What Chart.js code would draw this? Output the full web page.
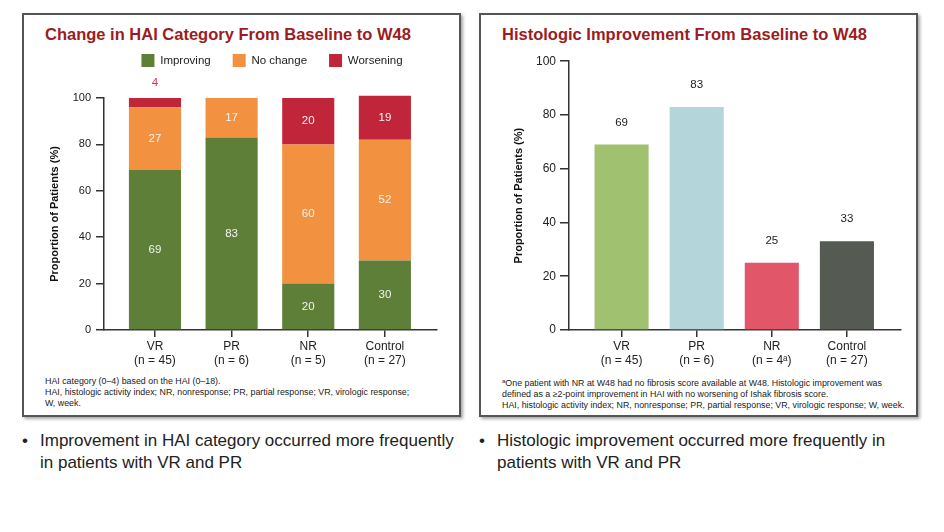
<!DOCTYPE html>
<html>
<head>
<meta charset="utf-8">
<script src="https://cdn.jsdelivr.net/npm/chart.js@4"></script>
<style>
body{margin:0;width:944px;height:532px;background:#fff;font-family:"Liberation Sans",Arial,sans-serif;position:relative;overflow:hidden}
.box{position:absolute;top:13px;width:439px;height:404px;box-sizing:border-box;border:2px solid #555;box-shadow:2px 2px 3px rgba(0,0,0,.35);background:#fff}
.title{position:absolute;top:25px;font-weight:bold;font-size:16.5px;color:#9b1c22;white-space:nowrap}
.note{position:absolute;top:376px;font-size:8.85px;line-height:11px;color:#222;white-space:nowrap}
.note sup{font-size:6px;vertical-align:3px}
canvas{position:absolute}
.bullet{position:absolute;top:430px;font-size:17px;line-height:22px;color:#222;white-space:nowrap}
.bullet span{position:absolute;left:-18px;top:0}
</style>
</head>
<body>
<div class="box" style="left:22px"></div>
<div class="box" style="left:479px"></div>
<div class="title" style="left:45px">Change in HAI Category From Baseline to W48</div>
<div class="title" style="left:502px">Histologic Improvement From Baseline to W48</div>
<canvas id="hai" width="460" height="343" style="left:42px;top:32px"></canvas>
<canvas id="histo" width="405" height="325" style="left:505px;top:50px"></canvas>
<div class="note" style="left:45px">HAI category (0–4) based on the HAI (0–18).<br>HAI, histologic activity index; NR, nonresponse; PR, partial response; VR, virologic response;<br>W, week.</div>
<div class="note" style="left:502px"><sup>a</sup>One patient with NR at W48 had no fibrosis score available at W48. Histologic improvement was<br>defined as a ≥2-point improvement in HAI with no worsening of Ishak fibrosis score.<br>HAI, histologic activity index; NR, nonresponse; PR, partial response; VR, virologic response; W, week.</div>
<div class="bullet" style="left:40px"><span>•</span>Improvement in HAI category occurred more frequently<br>in patients with VR and PR</div>
<div class="bullet" style="left:497px"><span>•</span>Histologic improvement occurred more frequently in<br>patients with VR and PR</div>
<script>
// data
var categories = [['VR', '(n = 45)'], ['PR', '(n = 6)'], ['NR', '(n = 5)'], ['Control', '(n = 27)']];
var improving = [69, 83, 20, 30];
var noChange = [27, 17, 60, 52];
var worsening = [4, 0, 20, 19];
var histoCategories = [['VR', '(n = 45)'], ['PR', '(n = 6)'], ['NR', '(n = 4ᵃ)'], ['Control', '(n = 27)']];
var histoImprovement = [69, 83, 25, 33];
var yTicks = [0, 20, 40, 60, 80, 100];

Chart.defaults.font.family = '"Liberation Sans", Arial, sans-serif';
Chart.defaults.color = '#222';

var xy = function(arr){
    return arr.map(function(v, i){ return {x: i, y: v}; });
};

// draws the numbers on / above the bars
var barValues = {
    id: 'barValues',
    afterDatasetsDraw: function(chart, args, opts){
        var ctx = chart.ctx;
        ctx.save();
        ctx.font = '11.5px "Liberation Sans", Arial, sans-serif';
        ctx.textAlign = 'center';
        ctx.textBaseline = 'middle';
        chart.data.datasets.forEach(function(ds, i){
            chart.getDatasetMeta(i).data.forEach(function(bar, j){
                var v = ds.data[j].y;
                if(!v) return;
                var h = bar.base - bar.y;
                if(opts.mode == 'above'){
                    ctx.fillStyle = '#222';
                    ctx.fillText(v, bar.x, bar.y - 22);
                } else if(h < 16){
                    ctx.fillStyle = '#d6384a';
                    ctx.fillText(v, bar.x, bar.y - 15);
                } else {
                    ctx.fillStyle = '#f4f4f4';
                    ctx.fillText(v, bar.x, (bar.y + bar.base) / 2);
                }
            });
        });
        ctx.restore();
    }
};

// extra room under the legend
var legendGap = {
    id: 'legendGap',
    beforeInit: function(chart){
        var fit = chart.legend.fit;
        chart.legend.fit = function(){
            fit.bind(chart.legend)();
            this.height += 21;
        };
    }
};

var yAxis = function(size, tickLen, pad, titlePad, w){
    return {
        min: 0, max: 100,
        afterBuildTicks: function(s){ s.ticks = yTicks.map(function(v){ return {value: v}; }); },
        afterFit: function(s){ s.width = w; },
        border: {color: '#333', width: 1.5},
        grid: {drawOnChartArea: false, tickLength: tickLen, color: '#333', lineWidth: 1.5},
        ticks: {font: {size: size}, padding: pad, color: '#222'},
        title: {display: true, text: 'Proportion of Patients (%)', color: '#111',
            font: {size: 11, weight: 'bold'}, padding: {top: titlePad, bottom: 0}}
    };
};

var xAxis = function(cats, min, max){
    return {
        type: 'linear', min: min, max: max, offset: false,
        afterBuildTicks: function(s){ s.ticks = cats.map(function(c, i){ return {value: i}; }); },
        afterFit: function(s){ s.height = 45; },
        border: {color: '#333', width: 1.5},
        grid: {drawOnChartArea: false, offset: false, tickLength: 7, color: '#333', lineWidth: 1.5},
        ticks: {callback: function(v){ return cats[v]; }, font: {size: 12, lineHeight: 1.17},
            padding: 3, maxRotation: 0, autoSkip: false, color: '#222'}
    };
};

var ctxhai = document.getElementById('hai').getContext('2d');
var chartHai = new Chart(ctxhai, {
    type: 'bar',
    data: {
        datasets: [
            {label: 'Improving', data: xy(improving), backgroundColor: '#5e7f38'},
            {label: 'No change', data: xy(noChange), backgroundColor: '#f2913f'},
            {label: 'Worsening', data: xy(worsening), backgroundColor: '#c0253a'}
        ]
    },
    options: {
        responsive: false,
        animation: false,
        layout: {padding: 0},
        datasets: {bar: {barPercentage: 0.68, categoryPercentage: 1, borderWidth: 0, clip: false}},
        scales: {
            x: Object.assign(xAxis(categories, -0.665, 3.68), {stacked: true}),
            y: Object.assign(yAxis(11, 8, 5, 6.5, 62), {stacked: true}),
            // empty space on the right so the legend stays centred on the canvas
            spacer: {position: 'right', display: true, afterFit: function(s){ s.width = 65; },
                grid: {display: false}, border: {display: false}, ticks: {display: false}}
        },
        plugins: {
            legend: {
                display: true,
                labels: {boxWidth: 13, boxHeight: 13, padding: 22, color: '#222', font: {size: 11.5}}
            },
            tooltip: {enabled: false},
            barValues: {mode: 'inside'}
        }
    },
    plugins: [barValues, legendGap]
});

var ctxhisto = document.getElementById('histo').getContext('2d');
var chartHisto = new Chart(ctxhisto, {
    type: 'bar',
    data: {
        datasets: [{
            label: 'Histologic improvement',
            data: xy(histoImprovement),
            backgroundColor: ['#a0c16f', '#b4d6db', '#e2566a', '#555a52']
        }]
    },
    options: {
        responsive: false,
        animation: false,
        layout: {padding: {top: 9, right: 9, left: 0, bottom: 0}},
        datasets: {bar: {barPercentage: 0.72, categoryPercentage: 1, borderWidth: 0}},
        scales: {
            x: xAxis(histoCategories, -0.7, 3.72),
            y: yAxis(12, 9, 4, 7.5, 64)
        },
        plugins: {
            legend: {display: false},
            tooltip: {enabled: false},
            barValues: {mode: 'above'}
        }
    },
    plugins: [barValues]
});
</script>
</body>
</html>
